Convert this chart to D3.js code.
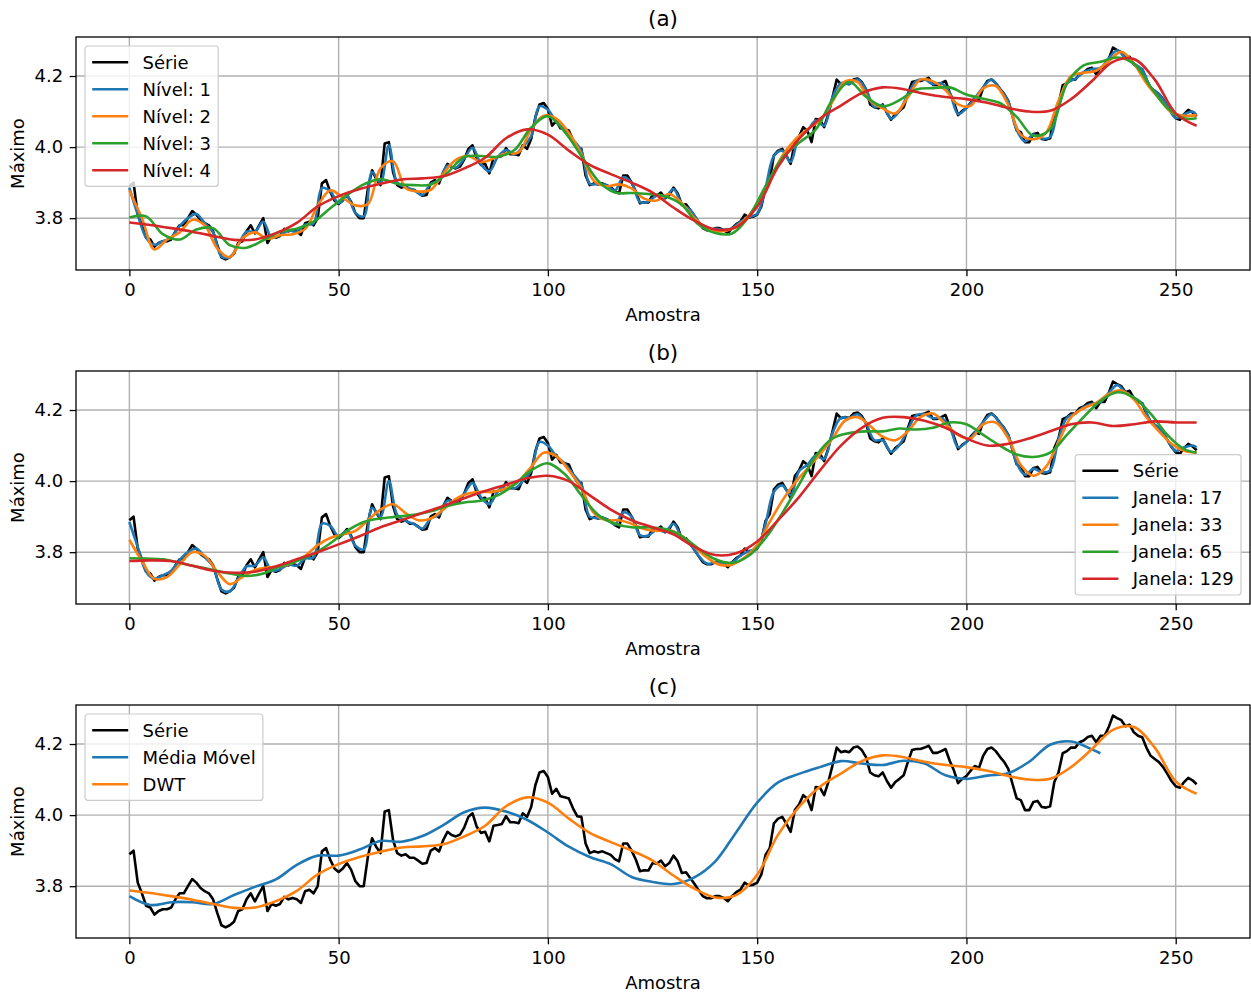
<!DOCTYPE html>
<head>
    <meta charset="utf-8">
    <title>Série e versões suavizadas</title>
</head>
<style>
    body { margin: 0; background: #fff; }
    svg { display: block; font-family: "DejaVu Sans", sans-serif; }
    .grid line { stroke: #b0b0b0; stroke-width: 1.4px; }
    .spine { fill: none; stroke: #000; stroke-width: 1.3px; }
    .axis path { display: none; }
    .axis line { stroke: #000; stroke-width: 1.3px; }
    .axis text { font-size: 18px; fill: #000; font-family: "DejaVu Sans", sans-serif; }
    .serie { fill: none; stroke-width: 2.6px; stroke-linejoin: round; }
    .legend rect { fill: #fff; fill-opacity: 0.8; stroke: #cccccc; stroke-width: 1.2px; }
    .legend text { font-size: 18px; fill: #000; }
</style>
<body>
<script src="https://d3js.org/d3.v7.min.js"></script>
<script>
    var width = 1251,
        height = 994,
        fs = 18;

    // série original (Máximo), amostras 0..255
    var serie = [
        3.89, 3.90, 3.81, 3.78, 3.745, 3.74, 3.72, 3.73, 3.735, 3.735,
        3.74, 3.763, 3.78, 3.78, 3.80, 3.82, 3.81, 3.795, 3.786, 3.78,
        3.763, 3.725, 3.69, 3.684, 3.69, 3.70, 3.73, 3.735, 3.763, 3.78,
        3.757, 3.78, 3.80, 3.73, 3.75, 3.745, 3.75, 3.77, 3.763, 3.767,
        3.763, 3.753, 3.786, 3.79, 3.78, 3.80, 3.898, 3.907, 3.874, 3.85,
        3.84, 3.85, 3.865, 3.846, 3.814, 3.80, 3.80, 3.884, 3.935, 3.91,
        3.893, 4.01, 4.014, 3.93, 3.893, 3.886, 3.89, 3.88, 3.88, 3.872,
        3.863, 3.865, 3.90, 3.907, 3.898, 3.93, 3.953, 3.944, 3.94, 3.945,
        3.965, 3.995, 4.005, 3.967, 3.95, 3.953, 3.926, 3.97, 3.972, 3.975,
        3.997, 3.98, 3.98, 3.977, 4.005, 3.995, 4.023, 4.084, 4.12, 4.124,
        4.107, 4.06, 4.074, 4.053, 4.05, 4.047, 4.019, 3.997, 3.995, 3.92,
        3.893, 3.898, 3.895, 3.898, 3.893, 3.888, 3.876, 3.87, 3.92, 3.92,
        3.90, 3.875, 3.842, 3.845, 3.844, 3.865, 3.863, 3.872, 3.856, 3.865,
        3.886, 3.87, 3.837, 3.839, 3.823, 3.807, 3.789, 3.772, 3.766, 3.766,
        3.772, 3.772, 3.767, 3.758, 3.772, 3.783, 3.79, 3.81, 3.802, 3.804,
        3.81, 3.833, 3.888, 3.907, 3.977, 3.99, 3.995, 3.975, 3.953, 4.014,
        4.03, 4.056, 4.046, 4.014, 4.079, 4.077, 4.056, 4.093, 4.14, 4.19,
        4.177, 4.18, 4.177, 4.19, 4.193, 4.183, 4.163, 4.12, 4.112, 4.109,
        4.12, 4.096, 4.077, 4.093, 4.102, 4.112, 4.149, 4.183, 4.186, 4.186,
        4.19, 4.195, 4.175, 4.175, 4.18, 4.186, 4.153, 4.126, 4.09, 4.102,
        4.11, 4.125, 4.138, 4.133, 4.167, 4.186, 4.19, 4.18, 4.164, 4.15,
        4.13, 4.088, 4.047, 4.042, 4.014, 4.014, 4.037, 4.04, 4.023, 4.021,
        4.025, 4.093, 4.12, 4.174, 4.18, 4.19, 4.19, 4.205, 4.21, 4.22,
        4.223, 4.205, 4.223, 4.223, 4.248, 4.28, 4.273, 4.267, 4.25, 4.254,
        4.233, 4.223, 4.219, 4.19, 4.167, 4.158, 4.149, 4.135, 4.116, 4.096,
        4.081, 4.077, 4.093, 4.105, 4.098, 4.087
    ];

    // amostras em que as curvas suavizadas foram lidas
    var amostras1 = d3.range(0, 256),
        amostras2 = d3.range(0, 256, 2).concat([255]),
        amostras3 = d3.range(0, 256, 3),
        amostras4 = d3.range(0, 256, 4).concat([255]),
        amostras5 = d3.range(0, 256, 5),
        amostrasMM = d3.range(0, 231, 5).concat([232]);

    // (a) DWT por nível
    var nivel1 = [
        3.885, 3.81, 3.745, 3.725, 3.735, 3.745, 3.778, 3.80, 3.812, 3.786,
        3.76, 3.692, 3.69, 3.725, 3.762, 3.762, 3.79, 3.745, 3.752, 3.765,
        3.762, 3.782, 3.785, 3.885, 3.876, 3.842, 3.862, 3.815, 3.805, 3.93,
        3.90, 4.005, 3.90, 3.888, 3.879, 3.865, 3.897, 3.905, 3.948, 3.942,
        3.968, 3.998, 3.952, 3.932, 3.972, 3.992, 3.98, 4.00, 4.03, 4.115,
        4.105, 4.07, 4.05, 4.02, 3.99, 3.897, 3.896, 3.893, 3.878, 3.915,
        3.90, 3.845, 3.847, 3.863, 3.858, 3.882, 3.84, 3.823, 3.79, 3.767,
        3.771, 3.767, 3.771, 3.79, 3.803, 3.812, 3.885, 3.975, 3.99, 3.958,
        4.03, 4.046, 4.075, 4.06, 4.14, 4.18, 4.178, 4.19, 4.162, 4.113,
        4.117, 4.08, 4.102, 4.148, 4.186, 4.19, 4.177, 4.18, 4.153, 4.093,
        4.11, 4.138, 4.168, 4.19, 4.163, 4.128, 4.048, 4.016, 4.035, 4.024,
        4.028, 4.12, 4.18, 4.192, 4.21, 4.22, 4.222, 4.25, 4.272, 4.25,
        4.235, 4.218, 4.168, 4.149, 4.116, 4.082, 4.092, 4.10,
        4.09
    ];
    var nivel2 = [
        3.878, 3.80, 3.712, 3.74, 3.76, 3.795, 3.78, 3.715, 3.69, 3.743,
        3.76, 3.742, 3.752, 3.755, 3.77, 3.835, 3.878, 3.858, 3.836, 3.84,
        3.94, 3.96, 3.885, 3.875, 3.88, 3.925, 3.964, 3.975, 3.958, 3.968,
        3.983, 3.985, 4.05, 4.088, 4.08, 4.04, 3.98, 3.905, 3.89, 3.895,
        3.884, 3.855, 3.85, 3.868, 3.842, 3.80, 3.772, 3.763, 3.77, 3.795,
        3.84, 3.908, 3.975, 4.02, 4.05, 4.075, 4.128, 4.185, 4.183, 4.13,
        4.109, 4.095, 4.14, 4.19, 4.185, 4.16, 4.12, 4.116, 4.165, 4.172,
        4.118, 4.035, 4.022, 4.04, 4.13, 4.20, 4.209, 4.215, 4.242, 4.268,
        4.235, 4.18, 4.137, 4.098, 4.088, 4.09
    ];
    var nivel3 = [
        3.802, 3.805, 3.755, 3.74, 3.768, 3.772, 3.724, 3.717, 3.738, 3.762,
        3.77, 3.79, 3.828, 3.865, 3.895, 3.91, 3.897, 3.893, 3.895, 3.928,
        3.972, 3.975, 3.973, 3.992, 4.055, 4.087, 4.043, 3.975, 3.905, 3.872,
        3.871, 3.868, 3.862, 3.838, 3.782, 3.758, 3.757, 3.805, 3.89, 3.97,
        4.012, 4.05, 4.133, 4.183, 4.142, 4.115, 4.132, 4.162, 4.166, 4.168,
        4.148, 4.136, 4.124, 4.085, 4.032, 4.05, 4.178, 4.23, 4.24, 4.252,
        4.235, 4.17, 4.11, 4.081, 4.081
    ];
    // nível 4 = DWT do painel (c)
    var nivel4 = [
        3.788, 3.781, 3.772, 3.762, 3.750, 3.739, 3.740, 3.758, 3.787, 3.833,
        3.862, 3.882, 3.897, 3.909, 3.912, 3.918, 3.940, 3.970, 4.025, 4.050,
        4.035, 3.990, 3.950, 3.924, 3.900, 3.872, 3.830, 3.793, 3.768, 3.775,
        3.832, 3.945, 4.023, 4.080, 4.117, 4.152, 4.168, 4.163, 4.150, 4.141,
        4.135, 4.125, 4.110, 4.100, 4.102, 4.135, 4.186, 4.240, 4.248, 4.190,
        4.095, 4.060
    ];

    // (b) média móvel por janela
    var janela17 = [
        3.885, 3.815, 3.745, 3.725, 3.735, 3.748, 3.778, 3.80, 3.81, 3.786,
        3.76, 3.695, 3.69, 3.725, 3.76, 3.762, 3.785, 3.748, 3.752, 3.765,
        3.762, 3.782, 3.785, 3.88, 3.874, 3.845, 3.86, 3.818, 3.808, 3.925,
        3.90, 4.0, 3.905, 3.888, 3.879, 3.866, 3.895, 3.905, 3.945, 3.942,
        3.965, 3.995, 3.955, 3.935, 3.97, 3.99, 3.98, 4.0, 4.03, 4.11,
        4.10, 4.07, 4.05, 4.02, 3.99, 3.9, 3.896, 3.893, 3.878, 3.912,
        3.90, 3.848, 3.847, 3.863, 3.858, 3.88, 3.842, 3.823, 3.79, 3.768,
        3.771, 3.767, 3.771, 3.79, 3.803, 3.812, 3.88, 3.97, 3.988, 3.96,
        4.028, 4.046, 4.072, 4.062, 4.135, 4.178, 4.178, 4.188, 4.162, 4.115,
        4.115, 4.082, 4.102, 4.145, 4.185, 4.188, 4.177, 4.178, 4.153, 4.095,
        4.11, 4.136, 4.166, 4.188, 4.163, 4.128, 4.05, 4.018, 4.035, 4.025,
        4.03, 4.118, 4.178, 4.19, 4.208, 4.218, 4.222, 4.248, 4.27, 4.25,
        4.235, 4.218, 4.168, 4.149, 4.116, 4.085, 4.095, 4.10,
        4.095
    ];
    var janela33 = [
        3.835, 3.775, 3.725, 3.73, 3.765, 3.80, 3.79, 3.745, 3.71, 3.73,
        3.75, 3.757, 3.76, 3.77, 3.79, 3.82, 3.84, 3.85, 3.86, 3.89,
        3.92, 3.935, 3.91, 3.89, 3.895, 3.92, 3.95, 3.965, 3.97, 3.97,
        3.98, 4.0, 4.04, 4.08, 4.07, 4.03, 3.98, 3.91, 3.89, 3.89,
        3.88, 3.865, 3.86, 3.862, 3.845, 3.815, 3.785, 3.765, 3.765, 3.785,
        3.82, 3.885, 3.945, 3.995, 4.035, 4.075, 4.12, 4.17, 4.18, 4.155,
        4.125, 4.115, 4.14, 4.18, 4.19, 4.16, 4.13, 4.12, 4.16, 4.165,
        4.12, 4.045, 4.015, 4.04, 4.11, 4.18, 4.205, 4.22, 4.245, 4.255,
        4.23, 4.18, 4.14, 4.105, 4.085, 4.08
    ];
    var janela65 = [
        3.783, 3.782, 3.78, 3.77, 3.76, 3.75, 3.74, 3.733, 3.74, 3.76,
        3.775, 3.795, 3.825, 3.86, 3.885, 3.895, 3.90, 3.905, 3.915, 3.93,
        3.94, 3.945, 3.96, 3.99, 4.03, 4.05, 4.02, 3.96, 3.905, 3.88,
        3.87, 3.87, 3.865, 3.845, 3.81, 3.78, 3.77, 3.79, 3.84, 3.91,
        3.99, 4.07, 4.12, 4.135, 4.14, 4.14, 4.148, 4.145, 4.15, 4.165,
        4.16, 4.13, 4.10, 4.075, 4.068, 4.08, 4.13, 4.18, 4.225, 4.25,
        4.235, 4.19, 4.13, 4.09, 4.08
    ];
    var janela129 = [
        3.775, 3.777, 3.775, 3.762, 3.748, 3.742, 3.745, 3.76, 3.78, 3.80,
        3.822, 3.845, 3.87, 3.89, 3.91, 3.93, 3.952, 3.972, 3.99, 4.008,
        4.015, 4.0, 3.96, 3.92, 3.89, 3.87, 3.85, 3.815, 3.792, 3.797,
        3.83, 3.89, 3.955, 4.03, 4.10, 4.15, 4.178, 4.18, 4.17, 4.15,
        4.12, 4.10, 4.105, 4.12, 4.14, 4.16, 4.165, 4.155, 4.16, 4.168,
        4.165, 4.165
    ];

    // (c) comparação
    var mediaMovel = [
        3.772, 3.747, 3.755, 3.755, 3.750, 3.775, 3.798, 3.819, 3.860, 3.886,
        3.886, 3.903, 3.927, 3.925, 3.941, 3.972, 4.008, 4.021, 4.010, 3.987,
        3.951, 3.911, 3.882, 3.862, 3.826, 3.812, 3.806, 3.825, 3.870, 3.952,
        4.035, 4.092, 4.116, 4.135, 4.152, 4.145, 4.141, 4.153, 4.145, 4.112,
        4.102, 4.111, 4.118, 4.150, 4.198, 4.207, 4.185, 4.174
    ];

    var xTicks = [0, 50, 100, 150, 200, 250],
        yTicks = [3.8, 4.0, 4.2];

    var preto = "#000000", azul = "#1f77b4", laranja = "#ff7f0e",
        verde = "#2ca02c", vermelho = "#d62728";

    var paineis = [
        {
            titulo: "(a)", top: 37, bottom: 270, legenda: "upper left",
            series: [
                { nome: "Série", x: amostras1, y: serie, cor: preto, suave: false },
                { nome: "Nível: 1", x: amostras2, y: nivel1, cor: azul, suave: true },
                { nome: "Nível: 2", x: amostras3, y: nivel2, cor: laranja, suave: true },
                { nome: "Nível: 3", x: amostras4, y: nivel3, cor: verde, suave: true },
                { nome: "Nível: 4", x: amostras5, y: nivel4, cor: vermelho, suave: true }
            ]
        },
        {
            titulo: "(b)", top: 371, bottom: 604, legenda: "lower right",
            series: [
                { nome: "Série", x: amostras1, y: serie, cor: preto, suave: false },
                { nome: "Janela: 17", x: amostras2, y: janela17, cor: azul, suave: true },
                { nome: "Janela: 33", x: amostras3, y: janela33, cor: laranja, suave: true },
                { nome: "Janela: 65", x: amostras4, y: janela65, cor: verde, suave: true },
                { nome: "Janela: 129", x: amostras5, y: janela129, cor: vermelho, suave: true }
            ]
        },
        {
            titulo: "(c)", top: 705, bottom: 938, legenda: "upper left",
            series: [
                { nome: "Série", x: amostras1, y: serie, cor: preto, suave: false },
                { nome: "Média Móvel", x: amostrasMM, y: mediaMovel, cor: azul, suave: true },
                { nome: "DWT", x: amostras5, y: nivel4, cor: laranja, suave: true }
            ]
        }
    ];

    var left = 76, right = 1250;

    var svg = d3.select("body").append("svg")
        .attr("width", width)
        .attr("height", height);

    var x = d3.scaleLinear()
        .domain([-12.75, 267.75])
        .range([left, right]);

    paineis.forEach(function (p, k) {
        var todos = [];
        p.series.forEach(function (s) { todos = todos.concat(s.y); });
        var ext = d3.extent(todos),
            pad = (ext[1] - ext[0]) * 0.05;
        var y = d3.scaleLinear()
            .domain([ext[0] - pad, ext[1] + pad])
            .range([p.bottom, p.top]);

        var g = svg.append("g");

        g.append("clipPath").attr("id", "clip" + k)
            .append("rect")
            .attr("x", left).attr("y", p.top)
            .attr("width", right - left).attr("height", p.bottom - p.top);

        // grade
        var grid = g.append("g").attr("class", "grid");
        grid.selectAll(".gx").data(xTicks).enter().append("line")
            .attr("x1", d => x(d)).attr("x2", d => x(d))
            .attr("y1", p.top).attr("y2", p.bottom);
        grid.selectAll(".gy").data(yTicks).enter().append("line")
            .attr("x1", left).attr("x2", right)
            .attr("y1", d => y(d)).attr("y2", d => y(d));

        // séries
        var linhas = g.append("g").attr("clip-path", "url(#clip" + k + ")");
        p.series.forEach(function (s) {
            var line = d3.line()
                .x((d, i) => x(s.x[i]))
                .y(d => y(d))
                .curve(s.suave ? d3.curveCatmullRom.alpha(0.5) : d3.curveLinear);
            linhas.append("path")
                .datum(s.y)
                .attr("class", "serie")
                .attr("stroke", s.cor)
                .attr("d", line);
        });

        g.append("rect").attr("class", "spine")
            .attr("x", left).attr("y", p.top)
            .attr("width", right - left).attr("height", p.bottom - p.top);

        g.append("g").attr("class", "axis")
            .attr("transform", "translate(0," + p.bottom + ")")
            .call(d3.axisBottom(x).tickValues(xTicks).tickSize(6.3).tickPadding(6.5)
                .tickFormat(d3.format("d")));
        g.append("g").attr("class", "axis")
            .attr("transform", "translate(" + left + ",0)")
            .call(d3.axisLeft(y).tickValues(yTicks).tickSize(6.3).tickPadding(6.5)
                .tickFormat(d3.format(".1f")));

        g.append("text")
            .attr("x", (left + right) / 2).attr("y", p.top - 11)
            .attr("text-anchor", "middle")
            .style("font-size", "21.5px")
            .text(p.titulo);
        g.append("text")
            .attr("x", (left + right) / 2).attr("y", p.bottom + 51)
            .attr("text-anchor", "middle")
            .style("font-size", fs + "px")
            .text("Amostra");
        g.append("text")
            .attr("transform", "translate(24," + (p.top + p.bottom) / 2 + ") rotate(-90)")
            .attr("text-anchor", "middle")
            .style("font-size", fs + "px")
            .text("Máximo");

        // legenda
        var leg = g.append("g").attr("class", "legend");
        var caixa = leg.append("rect").attr("rx", 3).attr("ry", 3);
        var itens = leg.selectAll(".item").data(p.series).enter().append("g");
        itens.append("line")
            .attr("x1", 0.4 * fs).attr("x2", 2.4 * fs)
            .attr("y1", (d, i) => 0.4 * fs + 0.5 * fs + i * 1.5 * fs)
            .attr("y2", (d, i) => 0.4 * fs + 0.5 * fs + i * 1.5 * fs)
            .attr("stroke", d => d.cor).attr("stroke-width", 2.6);
        var textos = itens.append("text")
            .attr("x", 3.2 * fs)
            .attr("y", (d, i) => 0.4 * fs + 0.5 * fs + i * 1.5 * fs)
            .attr("dy", "0.36em")
            .text(d => d.nome);
        var tw = d3.max(textos.nodes(), n => n.getComputedTextLength());
        var lw = 3.2 * fs + tw + 0.4 * fs,
            lh = p.series.length * 1.5 * fs - 0.5 * fs + 0.8 * fs;
        caixa.attr("width", lw).attr("height", lh);
        var lx, ly;
        if (p.legenda === "upper left") {
            lx = left + 0.5 * fs; ly = p.top + 0.5 * fs;
        } else {
            lx = right - 0.5 * fs - lw; ly = p.bottom - 0.5 * fs - lh;
        }
        leg.attr("transform", "translate(" + lx + "," + ly + ")");
    });
</script>
</body>
